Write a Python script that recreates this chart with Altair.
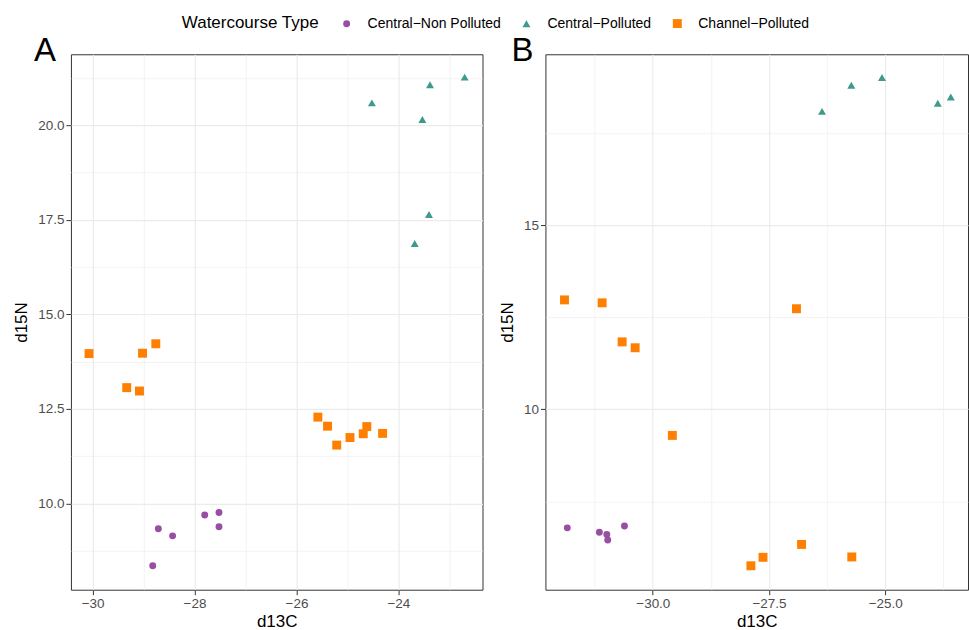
import altair as alt
import pandas as pd

FONT = "Liberation Sans"

types = ["Central−Non Polluted", "Central−Polluted", "Channel−Polluted"]
colors = ["#984EA3", "#3F9A8E", "#FF7F00"]
shapes = ["circle", "triangle-up", "square"]
sizes = [48, 80, 58]

# ---- Panel A ----
a_np_x = [-27.80, -27.52, -27.52, -28.71, -28.43, -28.82]
a_np_y = [9.69, 9.76, 9.38, 9.33, 9.14, 8.35]
a_p_x = [-24.52, -23.38, -22.70, -23.53, -23.40, -23.68]
a_p_y = [20.59, 21.07, 21.27, 20.15, 17.64, 16.87]
a_ch_x = [-30.07, -29.02, -28.76, -29.33, -29.08, -25.58, -25.39, -25.21,
          -24.95, -24.69, -24.62, -24.31]
a_ch_y = [13.96, 13.97, 14.22, 13.06, 12.97, 12.28, 12.04, 11.54,
          11.74, 11.84, 12.03, 11.85]

# ---- Panel B ----
b_np_x = [-31.84, -31.15, -30.99, -30.97, -30.61]
b_np_y = [6.78, 6.66, 6.60, 6.45, 6.83]
b_p_x = [-26.36, -25.73, -25.07, -23.87, -23.59]
b_p_y = [18.09, 18.80, 19.01, 18.31, 18.48]
b_ch_x = [-31.90, -31.09, -26.91, -30.66, -30.38, -29.58, -27.89, -27.63,
          -26.80, -25.72]
b_ch_y = [12.97, 12.89, 12.73, 11.83, 11.67, 9.29, 5.75, 5.98, 6.33, 5.99]

# axis ticks (major + minor grid positions)
a_x_ticks = [-30, -29, -28, -27, -26, -25, -24, -23]
a_y_ticks = [8.75, 10, 11.25, 12.5, 13.75, 15, 16.25, 17.5, 18.75, 20, 21.25]
b_x_ticks = [-31.25, -30, -28.75, -27.5, -26.25, -25, -23.75]
b_y_ticks = [7.5, 10, 12.5, 15, 17.5]

a_x_dom = [-30.425, -22.35]
a_y_dom = [7.716, 21.875]
b_x_dom = [-32.31, -23.22]
b_y_dom = [5.10, 19.64]


def frame(xs_list, ys_list):
    rows = []
    for t, xs, ys in zip(types, xs_list, ys_list):
        for x, y in zip(xs, ys):
            rows.append({"d13C": x, "d15N": y, "type": t})
    return pd.DataFrame(rows)


df_a = frame([a_np_x, a_p_x, a_ch_x], [a_np_y, a_p_y, a_ch_y])
df_b = frame([b_np_x, b_p_x, b_ch_x], [b_np_y, b_p_y, b_ch_y])


def make_axis(values, step, fmt, title, is_x):
    minor = f"abs(datum.value % {step}) > 1e-9"
    return alt.Axis(
        title=title,
        values=values,
        format=fmt,
        labelExpr=f"{minor} ? '' : datum.label",
        labelOverlap=False,
        labelFlush=False,
        grid=True,
        gridColor="#EBEBEB",
        gridWidth={"condition": {"test": minor, "value": 0.6}, "value": 1.2},
        tickOpacity={"condition": {"test": minor, "value": 0}, "value": 1},
        domain=False,
        tickColor="#333333",
        tickSize=5,
        tickWidth=1,
        labelColor="#4D4D4D",
        labelFontSize=13.5,
        labelFont=FONT,
        labelPadding=2,
        titleFont=FONT,
        titleFontSize=17,
        titleFontWeight="normal",
        titleColor="#000000",
        titlePadding=3 if is_x else 7,
    )


legend = alt.Legend(
    orient="none",
    legendX=111,
    legendY=-38,
    direction="horizontal",
    titleOrient="left",
    title="Watercourse Type",
    titleFont=FONT,
    titleFontSize=17,
    titleFontWeight="normal",
    titleColor="#000000",
    titlePadding=20,
    labelFont=FONT,
    labelFontSize=14,
    labelColor="#000000",
    labelOffset=14,
    columnPadding=18,
    symbolSize=30,
    symbolOpacity=1,
)


def panel(df, label, xvals, xstep, xfmt, xdom, yvals, ystep, yfmt, ydom, w, dx):
    return alt.Chart(
        df,
        title=alt.Title(
            label, anchor="start", frame="group", fontSize=33, font=FONT,
            fontWeight="normal", color="#000000", baseline="alphabetic",
            offset=0, dx=dx, dy=40,
        ),
    ).mark_point(filled=True, opacity=1).encode(
        x=alt.X("d13C:Q", scale=alt.Scale(domain=xdom, nice=False, zero=False),
                axis=make_axis(xvals, xstep, xfmt, "d13C", True)),
        y=alt.Y("d15N:Q", scale=alt.Scale(domain=ydom, nice=False, zero=False),
                axis=make_axis(yvals, ystep, yfmt, "d15N", False)),
        color=alt.Color("type:N", scale=alt.Scale(domain=types, range=colors),
                        legend=legend),
        shape=alt.Shape("type:N", scale=alt.Scale(domain=types, range=shapes),
                        legend=legend),
        size=alt.Size("type:N", scale=alt.Scale(domain=types, range=sizes),
                      legend=None),
    ).properties(width=w, height=536)


pa = panel(df_a, "A", a_x_ticks, 2, "d", a_x_dom, a_y_ticks, 2.5, ".1f", a_y_dom, 412, -37)
pb = panel(df_b, "B", b_x_ticks, 2.5, ".1f", b_x_dom, b_y_ticks, 5, "d", b_y_dom, 423, -34)

chart = alt.hconcat(pa, pb, spacing=63, bounds="flush").resolve_scale(
    color="shared", shape="shared", size="shared"
).resolve_legend(color="shared", shape="shared").configure(
    padding={"left": 12, "top": 16, "right": 0, "bottom": 0},
    background="#FFFFFF",
).configure_view(stroke="#333333", strokeWidth=1)

chart.save("out.html", embed_options={"renderer": "svg", "actions": False})
